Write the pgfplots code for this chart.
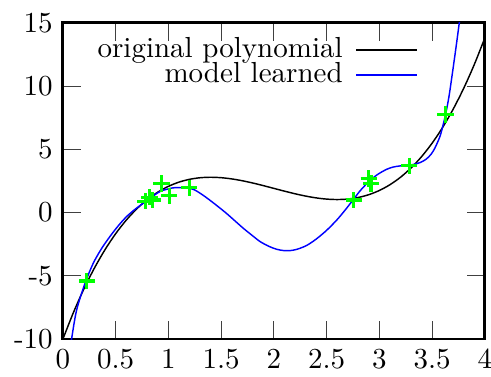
\documentclass[border=0pt]{standalone}
\usepackage{pgfplots}
\pgfplotsset{compat=1.18}
\begin{document}
\begin{tikzpicture}
\useasboundingbox (-21.7pt,-12.76pt) rectangle (147.6pt,116.9pt);
\begin{axis}[
  at={(0pt,0pt)}, anchor=south west,
  scale only axis,
  width=145.5pt, height=109pt,
  xmin=0, xmax=4, ymin=-10, ymax=15,
  xtick={0,0.5,1,1.5,2,2.5,3,3.5,4},
  xticklabels={0,0.5,1,1.5,2,2.5,3,3.5,4},
  ytick={-10,-5,0,5,10,15},
  yticklabels={-10,-5,0,5,10,15},
  tick align=inside,
  major tick length=6.2pt,
  tick style={black!75, line width=0.4pt},
  axis line style={line width=1pt},
  axis x line*=box, axis y line*=box,
  legend plot pos=right,
  legend cell align=right,
  legend style={draw=none, fill=none, inner sep=0pt, row sep=0pt,
    at={(0.843,0.955)}, anchor=north east,
    nodes={inner sep=0pt, text height=6.9pt, text depth=1.7pt},
    column sep=4.5pt},
  legend image code/.code={\draw[#1] (0pt,0pt) -- (21pt,0pt);},
]
\addplot[black, line width=0.5pt, smooth] coordinates {
(0,-10) (0.1,-7.8927) (0.2,-6.0179) (0.3,-4.3635) (0.4,-2.9171) (0.5,-1.6666)
(0.6,-0.5997) (0.7,0.2959) (0.8,1.0323) (0.9,1.6219) (1.0,2.0768) (1.1,2.4093)
(1.2,2.6317) (1.3,2.7561) (1.4,2.7949) (1.5,2.7602) (1.6,2.6643) (1.7,2.5195)
(1.8,2.3379) (1.9,2.1319) (2.0,1.9136) (2.1,1.6953) (2.2,1.4893) (2.3,1.3077)
(2.4,1.1629) (2.5,1.067) (2.6,1.0323) (2.7,1.0711) (2.8,1.1955) (2.9,1.4179)
(3.0,1.7504) (3.1,2.2053) (3.2,2.7949) (3.3,3.5313) (3.4,4.4269) (3.5,5.4938)
(3.6,6.7443) (3.7,8.1907) (3.8,9.8451) (3.9,11.7199) (4.0,13.8272)
};
\addlegendentry{original polynomial}
\addplot[blue, line width=0.5pt, smooth] coordinates {
(0.06,-11.3) (0.082,-10) (0.13,-7.7) (0.209,-5.6) (0.288,-4.0) (0.366,-2.85)
(0.445,-1.9) (0.524,-1.05) (0.603,-0.32) (0.682,0.25) (0.761,0.74) (0.84,1.22)
(0.919,1.66) (1.0,1.88) (1.06,1.97) (1.15,1.97) (1.235,1.84) (1.31,1.48)
(1.39,1.0) (1.47,0.48) (1.55,-0.06) (1.63,-0.65) (1.71,-1.24) (1.79,-1.78)
(1.867,-2.28) (1.95,-2.66) (2.026,-2.9) (2.09,-3.0) (2.15,-3.01) (2.22,-2.9)
(2.31,-2.6) (2.4,-2.1) (2.5,-1.4) (2.6,-0.55) (2.68,0.25) (2.75,1.0)
(2.82,1.75) (2.9,2.45) (2.98,3.0) (3.068,3.42) (3.13,3.6) (3.194,3.69)
(3.26,3.74) (3.32,3.8) (3.39,3.97) (3.447,4.25) (3.49,4.62) (3.526,5.1)
(3.573,6.0) (3.60,6.8) (3.627,7.75) (3.66,9.2) (3.70,11.5) (3.73,13.3)
(3.757,15) (3.78,16.6)
};
\addlegendentry{model learned}
\addplot[only marks, mark=+, mark size=2.8pt, color={rgb,255:red,0;green,255;blue,0},
  mark options={line width=1.1pt}, forget plot] coordinates {
(0.227,-5.41) (0.78,0.9) (0.82,1.22) (0.85,1.0) (0.935,2.3) (1.008,1.34)
(1.197,1.97) (2.758,1.0) (2.90,2.7) (2.92,2.3) (3.283,3.71) (3.627,7.75)
};
\end{axis}
\end{tikzpicture}
\end{document}
